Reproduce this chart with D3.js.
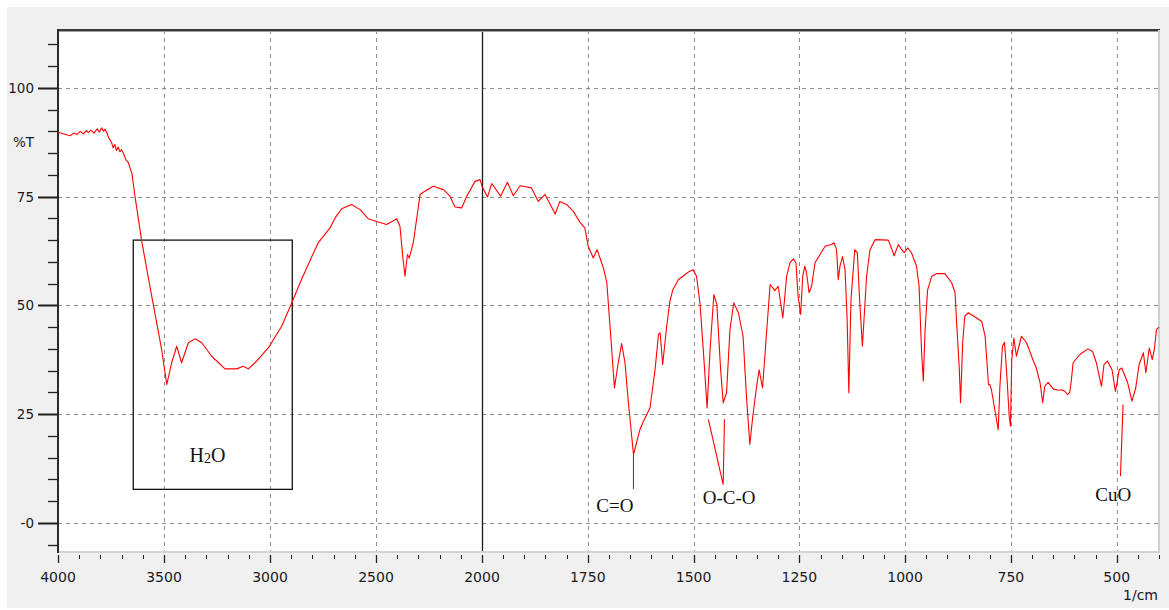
<!DOCTYPE html>
<html>
<head>
<meta charset="utf-8">
<script src="https://cdn.jsdelivr.net/npm/d3@7"></script>
<style>
  html, body { margin: 0; padding: 0; background: #ffffff; }
  svg { display: block; }
</style>
</head>
<body>
<svg id="chart" width="1169" height="610"></svg>
<script>
// ---------- data ----------
const wavenumbers = [
  4000, 3980, 3960, 3943, 3925, 3910, 3895, 3880, 3865, 3857, 3845, 3830, 3815, 3805, 3794, 3785, 3777, 3770,
  3760, 3747, 3740, 3732, 3724, 3716, 3708, 3700, 3690, 3680, 3668, 3660, 3652, 3637, 3605, 3558, 3511, 3487,
  3464, 3440, 3417, 3385, 3354, 3322, 3275, 3212, 3157, 3126, 3102, 3071, 3008, 2945, 2898, 2852, 2788, 2772,
  2717, 2693, 2662, 2615, 2575, 2536, 2497, 2450, 2402, 2387, 2374, 2363, 2352, 2343, 2324, 2292, 2277, 2230,
  2182, 2151, 2127, 2096, 2072, 2033, 2009, 2000,
  1987, 1977, 1956, 1940, 1926, 1910, 1883, 1867, 1851, 1827, 1816, 1800, 1784, 1768, 1757, 1749, 1737, 1728,
  1713, 1705, 1694, 1687, 1678, 1670, 1662, 1654, 1642, 1627, 1620, 1603, 1591, 1583, 1579, 1573, 1564, 1556,
  1549, 1536, 1520, 1510, 1501, 1493, 1485, 1477, 1468, 1461, 1452, 1445, 1436, 1430, 1422, 1414, 1405, 1394,
  1383, 1375, 1367, 1360, 1351, 1345, 1337, 1327, 1319, 1308, 1300, 1289, 1280, 1272, 1264, 1258, 1253, 1247,
  1242, 1237, 1233, 1227, 1221, 1213, 1201, 1189, 1174, 1168, 1162, 1158, 1154, 1148, 1142, 1137, 1133, 1128,
  1119, 1113, 1108, 1101, 1091, 1083, 1071, 1040, 1034, 1026, 1016, 1008, 1002, 994, 985, 973, 967, 961,
  957, 953, 947, 937, 925, 906, 890, 882, 878, 872, 869, 864, 859, 851, 831, 819, 811, 807,
  803, 800, 796, 788, 780, 776, 770, 765, 760, 754, 751, 748, 743, 737, 725, 713, 698, 690,
  681, 675, 670, 662, 650, 638, 630, 622, 616, 611, 607, 603, 587, 568, 557, 548, 536, 530,
  522, 511, 503, 498, 494, 488, 474, 464, 455, 447, 437, 431, 423, 416, 411, 406, 400
];
const transmittance = [
  89.8, 89.5, 89.2, 89.0, 89.6, 89.3, 90.0, 89.4, 90.2, 89.7, 90.3, 89.6, 90.6, 89.8, 90.8, 90.0, 90.5, 89.7,
  88.5, 87.4, 86.2, 87.0, 85.6, 86.4, 85.3, 85.8, 84.8, 83.5, 82.8, 81.5, 80.5, 75.1, 64.7, 52.1, 39.8, 31.8,
  36.8, 40.6, 36.8, 41.4, 42.3, 41.4, 38.3, 35.4, 35.4, 36.0, 35.4, 36.8, 40.2, 45.2, 50.5, 55.9, 62.8, 64.4,
  67.8, 70.1, 72.2, 73.2, 72.0, 69.9, 69.3, 68.6, 69.9, 68.2, 61.3, 56.7, 61.7, 60.9, 64.4, 75.5, 76.0, 77.4,
  76.6, 75.1, 72.6, 72.4, 75.1, 78.5, 78.9, 77.4,
  74.9, 78.0, 75.1, 78.3, 75.2, 77.5, 77.0, 73.9, 75.5, 71.0, 73.9, 73.2, 71.6, 69.0, 67.8, 63.6, 60.9, 62.8,
  58.6, 55.2, 40.6, 31.0, 36.8, 41.2, 36.8, 27.6, 15.7, 21.4, 23.0, 26.4, 35.2, 43.3, 43.7, 36.4, 44.8, 50.9,
  53.6, 55.9, 57.1, 57.8, 58.2, 56.7, 50.6, 39.8, 26.4, 39.8, 52.5, 50.2, 35.2, 27.6, 29.9, 44.4, 50.6, 48.3,
  42.9, 29.1, 18.0, 24.5, 31.4, 35.2, 31.0, 44.4, 54.8, 53.4, 54.4, 47.1, 56.7, 59.8, 60.7, 59.8, 52.1, 47.9,
  56.7, 59.0, 57.5, 52.9, 54.4, 59.8, 61.7, 63.6, 64.0, 64.4, 62.8, 55.9, 59.0, 61.2, 58.2, 46.7, 29.9, 51.3,
  62.8, 62.1, 52.1, 40.6, 56.7, 62.8, 65.1, 65.0, 63.6, 61.4, 64.0, 62.8, 62.1, 63.2, 62.1, 59.0, 54.4, 39.0,
  32.6, 44.0, 53.5, 56.7, 57.3, 57.3, 55.2, 52.9, 45.5, 35.5, 27.6, 41.4, 47.5, 48.3, 47.1, 46.3, 42.9, 37.5,
  31.8, 31.8, 30.6, 26.0, 21.4, 31.4, 40.6, 41.5, 34.5, 24.5, 22.2, 37.5, 42.5, 38.3, 42.9, 41.4, 37.5, 35.6,
  32.2, 27.6, 31.4, 32.3, 30.8, 30.5, 30.6, 30.2, 29.5, 30.0, 32.9, 36.8, 38.7, 40.0, 39.4, 36.8, 31.4, 36.4,
  37.2, 35.2, 30.2, 32.9, 35.2, 35.6, 32.2, 28.0, 31.0, 36.4, 39.1, 34.5, 40.2, 37.5, 39.8, 44.4, 45.0
];

const xMajorTicks = [4000, 3500, 3000, 2500, 2000, 1750, 1500, 1250, 1000, 750, 500];
const xTickLabels = ["4000", "3500", "3000", "2500", "2000", "1750", "1500", "1250", "1000", "750", "500"];
const yMajorTicks = [100, 75, 50, 25, 0];
const yTickLabels = ["100", "75", "50", "25", "-0"];
const xAxisTitle = "1/cm";
const yAxisTitle = "%T";

// annotation pointers (wavenumber, %T)
const cOPointer = [[1642, 15.7], [1642, 7.7]];
const oCOPointer = [[1465, 23.8], [1430, 8.8], [1427, 23.8]];
const cuOPointer = [[485, 27.2], [491, 10.7]];
const waterBox = { wnFrom: 3645, wnTo: 2895, tTop: 65, tBottom: 7.7 };
const waterLabel = { wn: 3295, t: 14.1 };
const labels = [
  { text: "C=O", wn: 1686, t: 2.6 },
  { text: "O-C-O", wn: 1416, t: 4.4 },
  { text: "CuO", wn: 508, t: 5.1 }
];

// ---------- layout ----------
const plot = { left: 58, top: 30, right: 1159, bottom: 552 };
const x = d3.scaleLinear().domain([4000, 2000, 400]).range([plot.left, 482, plot.right]);
const y = d3.scaleLinear().domain([113.3, -6.7]).range([plot.top, plot.bottom]);

const svg = d3.select("#chart");
const tickFont = "'DejaVu Sans', sans-serif";
const serifFont = "'Liberation Serif', 'Times New Roman', serif";

// outer grey panel
svg.append("rect").attr("x", 7).attr("y", 7).attr("width", 1162).attr("height", 601).attr("fill", "#f0f0f0");
// plot area
svg.append("rect").attr("x", plot.left).attr("y", plot.top)
  .attr("width", plot.right - plot.left).attr("height", plot.bottom - plot.top).attr("fill", "#ffffff");

// grid
const gridColor = "#8c8c8c";
const xGrid = xMajorTicks.filter(d => d !== 4000 && d !== 2000);
svg.append("g").selectAll("line").data(xGrid).join("line")
  .attr("x1", d => Math.round(x(d)) + 0.5).attr("x2", d => Math.round(x(d)) + 0.5)
  .attr("y1", plot.top).attr("y2", plot.bottom)
  .attr("stroke", gridColor).attr("stroke-width", 1).attr("stroke-dasharray", "4,4");
svg.append("g").selectAll("line").data(yMajorTicks).join("line")
  .attr("x1", plot.left).attr("x2", plot.right)
  .attr("y1", d => Math.round(y(d)) + 0.5).attr("y2", d => Math.round(y(d)) + 0.5)
  .attr("stroke", gridColor).attr("stroke-width", 1).attr("stroke-dasharray", "4,4");

// solid line at 2000 (scale change)
svg.append("line").attr("x1", Math.round(x(2000)) + 0.5).attr("x2", Math.round(x(2000)) + 0.5)
  .attr("y1", plot.top).attr("y2", plot.bottom).attr("stroke", "#1a1a1a").attr("stroke-width", 1.3);

// frame
svg.append("line").attr("x1", plot.left).attr("x2", plot.right + 1).attr("y1", plot.top).attr("y2", plot.top)
  .attr("stroke", "#3a3a3a").attr("stroke-width", 2);
svg.append("line").attr("x1", plot.left).attr("x2", plot.right + 1).attr("y1", plot.top + 1.5).attr("y2", plot.top + 1.5)
  .attr("stroke", "#a0a0a0").attr("stroke-width", 1);
svg.append("line").attr("x1", plot.right).attr("x2", plot.right).attr("y1", plot.top).attr("y2", plot.bottom)
  .attr("stroke", "#cfcfcf").attr("stroke-width", 2);
svg.append("line").attr("x1", plot.left).attr("x2", plot.right + 1).attr("y1", plot.bottom).attr("y2", plot.bottom)
  .attr("stroke", "#d4d4d4").attr("stroke-width", 2);
svg.append("line").attr("x1", plot.left).attr("x2", plot.left).attr("y1", plot.top - 1).attr("y2", plot.bottom + 1)
  .attr("stroke", "#2a2a2a").attr("stroke-width", 2);

// x ticks
const xMinor = d3.range(4000, 2000, -100).concat(d3.range(2000, 399, -50));
svg.append("g").selectAll("line").data(xMinor).join("line")
  .attr("x1", d => Math.round(x(d)) + 0.5).attr("x2", d => Math.round(x(d)) + 0.5)
  .attr("y1", plot.bottom + 3).attr("y2", d => xMajorTicks.includes(d) ? plot.bottom + 11 : plot.bottom + 7)
  .attr("stroke", "#202020").attr("stroke-width", d => xMajorTicks.includes(d) ? 1.3 : 1);
svg.append("g").selectAll("text").data(xMajorTicks).join("text")
  .attr("x", d => x(d)).attr("y", 582)
  .attr("text-anchor", "middle").attr("font-family", tickFont).attr("font-size", 14).attr("fill", "#1a1a1a")
  .text((d, i) => xTickLabels[i]);
svg.append("text").attr("x", 1158).attr("y", 600).attr("text-anchor", "end")
  .attr("font-family", tickFont).attr("font-size", 14).attr("fill", "#1a1a1a").text(xAxisTitle);

// y ticks
const yMinor = d3.range(-5, 111, 5);
svg.append("g").selectAll("line").data(yMinor).join("line")
  .attr("x1", d => yMajorTicks.includes(d) ? plot.left - 20 : plot.left - 10).attr("x2", plot.left)
  .attr("y1", d => Math.round(y(d)) + 0.5).attr("y2", d => Math.round(y(d)) + 0.5)
  .attr("stroke", "#202020").attr("stroke-width", d => yMajorTicks.includes(d) ? 2 : 1.3);
svg.append("g").selectAll("text").data(yMajorTicks).join("text")
  .attr("x", 34).attr("y", d => y(d) + 5)
  .attr("text-anchor", "end").attr("font-family", tickFont).attr("font-size", 13.5).attr("fill", "#1a1a1a")
  .text((d, i) => yTickLabels[i]);
svg.append("text").attr("x", 34).attr("y", y(87.5) + 5).attr("text-anchor", "end")
  .attr("font-family", tickFont).attr("font-size", 13.5).attr("fill", "#1a1a1a").text(yAxisTitle);

// water box
svg.append("rect")
  .attr("x", x(waterBox.wnFrom)).attr("y", y(waterBox.tTop))
  .attr("width", x(waterBox.wnTo) - x(waterBox.wnFrom)).attr("height", y(waterBox.tBottom) - y(waterBox.tTop))
  .attr("fill", "none").attr("stroke", "#111").attr("stroke-width", 1.3);
const h2o = svg.append("text").attr("x", x(waterLabel.wn)).attr("y", y(waterLabel.t))
  .attr("text-anchor", "middle").attr("font-family", serifFont).attr("font-size", 20).attr("fill", "#111");
h2o.append("tspan").text("H");
h2o.append("tspan").attr("font-size", 14).attr("dy", 1).text("2");
h2o.append("tspan").attr("dy", -1).text("O");

// spectrum
const data = wavenumbers.map((w, i) => [w, transmittance[i]]);
const line = d3.line().x(d => x(d[0])).y(d => y(d[1]));
svg.append("path").datum(data).attr("d", line)
  .attr("fill", "none").attr("stroke", "#ff0000").attr("stroke-width", 1.1).attr("stroke-linejoin", "round");

// pointers
[cOPointer, oCOPointer, cuOPointer].forEach(p => {
  svg.append("path").datum(p).attr("d", line).attr("fill", "none")
    .attr("stroke", "#ff0000").attr("stroke-width", 1.1);
});

// labels
svg.append("g").selectAll("text").data(labels).join("text")
  .attr("x", d => x(d.wn)).attr("y", d => y(d.t))
  .attr("text-anchor", "middle").attr("font-family", serifFont).attr("font-size", 19).attr("fill", "#111")
  .text(d => d.text);
</script>
</body>
</html>
